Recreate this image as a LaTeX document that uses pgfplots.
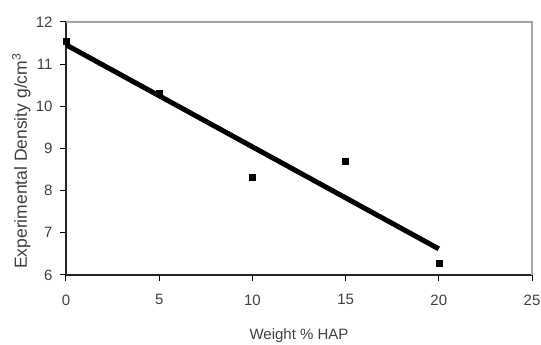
\documentclass[border=0pt]{standalone}
\usepackage{pgfplots}
\pgfplotsset{compat=1.18}
\usepackage{fontspec}
\setmainfont{Liberation Sans}
\begin{document}
\begin{tikzpicture}
\path[use as bounding box] (-66pt,-70pt) rectangle (475pt,275pt);
\begin{axis}[
  at={(0,0)}, anchor=south west,
  scale only axis, width=466pt, height=253pt,
  xmin=0, xmax=25, ymin=6, ymax=12,
  xtick={0,5,10,15,20,25}, ytick={6,7,8,9,10,11,12},
  axis x line*=bottom, axis y line*=left,
  x axis line style={-, line width=2.4pt, black!85},
  y axis line style={-, line width=1.6pt, black!85},
  tick align=outside, major tick length=6pt,
  tick style={black, line width=1pt},
  /pgf/number format/assume math mode=true,
  ticklabel style={font=\fontsize{15}{16}\selectfont, text=black!75},
  xticklabel style={yshift=-10pt},
  yticklabel style={xshift=-4pt},
  ylabel={Experimental Density g/cm\textsuperscript{3}},
  xlabel={Weight \% HAP},
  label style={font=\fontsize{15}{16}\selectfont, text=black!75},
  ylabel style={font=\fontsize{17.5}{18}\selectfont, at={(axis description cs:-0.096,0.45)}, anchor=center},
  xlabel style={at={(axis description cs:0.5,-0.238)}, anchor=center},
  clip=false,
]
\draw[gray!70, line width=1.4pt] (rel axis cs:0,1) -- (rel axis cs:1,1) -- (rel axis cs:1,0);
\addplot[black, line width=5pt, no marks] coordinates {(0,11.46) (20,6.62)};
\addplot[only marks, mark=square*, mark size=3pt, black] coordinates {
(0,11.55) (5,10.31) (10,8.32) (15,8.71) (20,6.29)};
\end{axis}
\end{tikzpicture}
\end{document}
